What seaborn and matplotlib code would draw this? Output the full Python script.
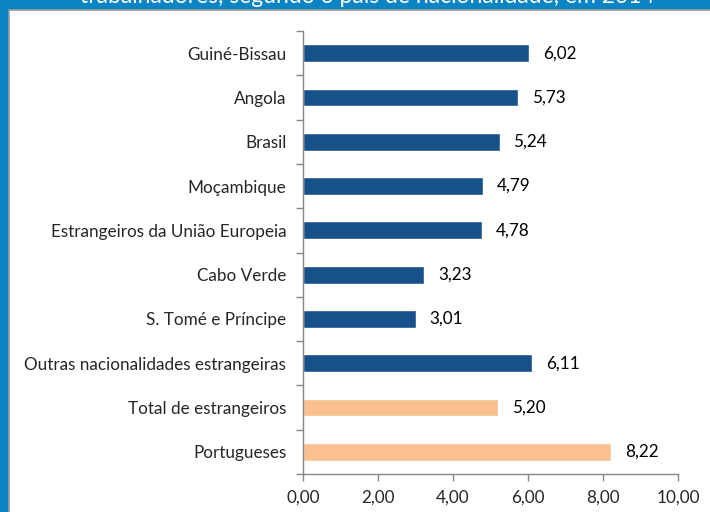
import matplotlib
matplotlib.use("Agg")
import matplotlib.pyplot as plt
import seaborn as sns
import pandas as pd
import numpy as np
from matplotlib.patches import Rectangle
from matplotlib.ticker import FixedLocator

categories = ["Guiné-Bissau", "Angola", "Brasil", "Moçambique",
              "Estrangeiros da União Europeia", "Cabo Verde",
              "S. Tomé e Príncipe", "Outras nacionalidades estrangeiras",
              "Total de estrangeiros", "Portugueses"]
values = [6.02, 5.73, 5.24, 4.79, 4.78, 3.23, 3.01, 6.11, 5.20, 8.22]
groups = ["nac", "nac", "nac", "nac", "nac", "nac", "nac", "nac", "total", "total"]
title = "trabalhadores, segundo o país de nacionalidade, em 2014"
xticks = [0, 2, 4, 6, 8, 10]

group_colors = {"nac": "#18508a", "total": "#fac08f"}
df = pd.DataFrame({"categoria": categories, "valor": values, "grupo": groups})

sns.set_style("white")
plt.rcParams["font.family"] = ["Lato", "DejaVu Sans"]
fs = 12.3

fig = plt.figure(figsize=(7.1, 5.12), dpi=100)
fig.patch.set_facecolor("#0a84c2")
# white panel with thin grey edge, behind the axes
fig.patches.append(Rectangle((9 / 710, -0.01), 1, 1.01 - 10 / 512, transform=fig.transFigure,
                             facecolor="white", edgecolor="#9a9a9a", linewidth=1.2, zorder=-5))
fig.text(0.517, 1 - 3 / 512, title, color="white", fontsize=16.5, ha="center", va="baseline")

ax = fig.add_axes([303 / 710, 1 - 474 / 512, 375 / 710, 443 / 512])
ax.set_facecolor("none")
sns.barplot(data=df, y="categoria", x="valor", hue="grupo", palette=group_colors,
            orient="h", width=0.4, saturation=1, legend=False, ax=ax)

for i, v in enumerate(values):
    ax.text(v + 0.37, i, f"{v:.2f}".replace(".", ","), va="center", ha="left",
            fontsize=fs, color="#000000")

ax.set_xlim(0, 10)
ax.set_ylim(len(categories) - 0.5, -0.5)
ax.set_xticks(xticks)
ax.set_xticklabels([f"{t:.2f}".replace(".", ",") for t in xticks], fontsize=fs)
ax.set_yticks(range(len(categories)))
ax.set_yticklabels(categories, fontsize=fs)
ax.yaxis.set_minor_locator(FixedLocator(np.arange(-0.5, len(categories), 1)))
ax.tick_params(axis="y", which="major", left=True, length=0, pad=12)
ax.tick_params(axis="y", which="minor", left=True, length=5, width=1, color="#868686", direction="out")
ax.tick_params(axis="x", which="major", bottom=True, length=5, width=1, color="#868686",
               direction="out", pad=6)
ax.set_xlabel("")
ax.set_ylabel("")
for s in ["top", "right"]:
    ax.spines[s].set_visible(False)
for s in ["left", "bottom"]:
    ax.spines[s].set_color("#868686")
    ax.spines[s].set_linewidth(1)

fig.savefig("out.png", dpi=100, facecolor=fig.get_facecolor())
